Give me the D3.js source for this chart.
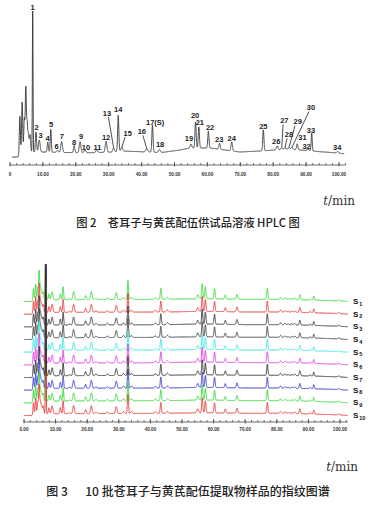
<!DOCTYPE html>
<html><head><meta charset="utf-8">
<script src="https://cdn.jsdelivr.net/npm/d3@7"></script>
<style>
html,body{margin:0;padding:0;background:#fff;}
svg{display:block;}
</style></head>
<body>
<svg id="c" width="376" height="505"></svg>
<script>
// ---------------- DATA ----------------
// unlabeled early cluster (min) and heights
const clusterTimes   = [3.0, 3.7, 4.35, 4.8, 5.2, 5.6, 6.1];
const clusterTop     = [38, 50, 33, 64, 28, 18, 17];
const clusterFp      = [12, 16, 12, 29, 12, 8, 8];
const clusterWidth   = [0.16, 0.16, 0.16, 0.16, 0.16, 0.18, 0.18];

// labeled peaks
const peakLabels = ["1","2","3","4","5","6","7","8","9","10","11","12","13","14","15","16","17(S)","18",
  "19","20","21","22","23","24","25","26","27","28","29","30","31","32","33","34"];
const peakTimes  = [6.9, 7.9, 8.9, 11.5, 12.4, 14.4, 15.7, 19.5, 21.3, 22.8, 26.4, 29.2, 31.5, 32.9, 34.0, 41.6, 43.3, 45.4,
  55.0, 56.4, 57.4, 60.3, 63.7, 67.4, 77.0, 81.2, 82.6, 83.6, 84.8, 85.7, 87.3, 90.6, 91.7, 99.6];
const peakTop    = [141, 20, 12, 10, 23, 2, 11, 7, 11, 3, 3, 11, 4, 36, 4, 3, 27, 3,
  4, 26, 21, 17, 6, 9, 21, 4, 2, 2, 2, 2, 6, 2, 18, 1.5];
const peakFp     = [120, 6, 8, 6, 13, 1, 8, 4, 8, 1.5, 1.5, 7, 2, 19, 2, 1.5, 11, 2,
  4, 15, 12, 10, 4, 5, 11, 2, 1.5, 1, 1, 1.5, 5, 1, 4, 1];
const peakWidth  = [0.1, 0.18, 0.25, 0.18, 0.16, 0.25, 0.25, 0.2, 0.25, 0.25, 0.25, 0.25, 0.25, 0.18, 0.25, 0.3, 0.18, 0.3,
  0.25, 0.18, 0.18, 0.18, 0.2, 0.22, 0.18, 0.25, 0.25, 0.25, 0.25, 0.25, 0.2, 0.25, 0.16, 0.25];

// baselines
const baseTimes = [0, 2.4, 3.5, 10.6, 15.2, 24.3, 31.9, 33.4, 42.6, 45.6, 51.7, 54.7, 60.8, 69.9, 76.0, 80.5, 85.1, 88.1, 94.2, 99.7, 102];
const baseTop   = [1, 1, 6, 6, 5.5, 5.3, 6, 7, 6, 5.3, 8, 10, 10, 6, 7, 8, 8.7, 8, 6.3, 5, 4];
const fpBaseTimes = [0, 2.5, 3.5, 10, 30, 45, 52, 58, 70, 80, 90, 100, 102.5];
const fpBase      = [0, 0, 1.5, 1.8, 2, 2.2, 2.6, 2.8, 2.2, 2.2, 1.6, 0.6, 0];

// samples
const samples = ["1","2","3","4","5","6","7","8","9","10"];
const sampleColors = ["#2fd82f","#e8312f","#333333","#3a3a3a","#2ee6e6","#e236e2","#2a2a2a","#2f2fd0","#2fd82f","#e8312f"];
const drawOrder = ["1","2","3","4","5","6","8","9","10","7"];

// axis ticks
const majorTicks = [0,10,20,30,40,50,60,70,80,90,100];

// captions
const caption1 = "图 2\u3000苍耳子与黄芪配伍供试品溶液 HPLC 图";
const caption2 = "图 3\u3000\u00a0\u00a010 批苍耳子与黄芪配伍提取物样品的指纹图谱";

// ---------------- LAYOUT ----------------
const labelOffsets = [[0,-1],[0.7,-1.7],[1.4,-2.3],[-0.3,-1.5],[0.3,-1.7],[-0.8,-1],[0.3,-2.4],[0,-1],[1,-2.4],[1,0],[0.6,0],[0,-1],
  [-6.7,-32.5],[0,-3],[5.8,-11.5],[-5,-15],[2.7,0],[0.7,-2.7],
  [-2,-2.6],[-0.5,-3.7],[1,-1.5],[1.7,-1],[-0.4,-1.7],[0,-1],[0,-0.7],[-1,-1.7],
  [2.6,-24.7],[4,-10.7],[8.7,-23],[19,-37.3],[5.2,-3.4],[-1.5,0.6],[-0.7,-0.3],[-0.4,-1]];
const leaders = {"13":1.5,"15":-2.5,"16":1,"27":-1.3,"28":-2,"29":-2.7,"30":-2};

const svg = d3.select("#c");
const W = 376;

// ---------------- TOP CHART ----------------
const xT = d3.scaleLinear().domain([0,100]).range([10,339]);
const yT = d3.scaleLinear().domain([0,150]).range([158,8]);
const baseFnT = d3.scaleLinear().domain(baseTimes).range(baseTop).clamp(true);
const baseFnF = d3.scaleLinear().domain(fpBaseTimes).range(fpBase).clamp(true);

function gauss(t, c, s){ return Math.exp(-((t-c)*(t-c))/(2*s*s)); }
function signal(t, baseFn, cH, pH){
  let v = baseFn(t);
  for(let i=0;i<clusterTimes.length;i++) v += cH[i]*gauss(t, clusterTimes[i], clusterWidth[i]);
  for(let i=0;i<peakTimes.length;i++) v += pH[i]*gauss(t, peakTimes[i], peakWidth[i]);
  return v;
}
const grid = d3.range(0.6, 101.6, 0.02);
const topData = grid.map(t => [t, signal(t, baseFnT, clusterTop, peakTop)]);

svg.append("path").datum(topData)
  .attr("fill","none").attr("stroke","#333").attr("stroke-width",0.9)
  .attr("d", d3.line().x(d=>xT(d[0])).y(d=>yT(d[1])));

// peak labels
const gl = svg.append("g").attr("font-family","Liberation Sans, Arial, sans-serif")
  .attr("font-weight","bold").attr("font-size","7.5px").attr("fill","#222");
peakLabels.forEach((lab,i)=>{
  const t = peakTimes[i];
  const ax = xT(t), ay = yT(signal(t, baseFnT, clusterTop, peakTop));
  const lx = ax + labelOffsets[i][0], ly = ay + labelOffsets[i][1];
  gl.append("text").attr("x",lx).attr("y",ly).attr("text-anchor","middle").text(lab);
  if(leaders[lab]!==undefined){
    svg.append("line").attr("x1",lx+leaders[lab]).attr("y1",ly+1.5).attr("x2",ax).attr("y2",ay)
      .attr("stroke","#222").attr("stroke-width",0.8);
  }
});

function drawAxis(x, y0, fmt, tEnd, labelY){
  const g = svg.append("g").attr("transform",`translate(0,${y0})`);
  g.append("line").attr("x1",x(0)).attr("x2",x(tEnd)).attr("stroke","#444").attr("stroke-width",0.8);
  g.selectAll("line.minor").data(d3.range(0, tEnd+0.01, 2)).join("line").attr("class","minor")
    .attr("x1",d=>x(d)).attr("x2",d=>x(d)).attr("y1",-2).attr("y2",0).attr("stroke","#444").attr("stroke-width",0.7);
  g.selectAll("line.major").data(majorTicks).join("line").attr("class","major")
    .attr("x1",d=>x(d)).attr("x2",d=>x(d)).attr("y1",-3).attr("y2",1.5).attr("stroke","#444").attr("stroke-width",0.8);
  const tx = g.selectAll("text").data(majorTicks).join("text")
    .attr("x",d=>x(d)).attr("y",labelY).attr("text-anchor","middle")
    .attr("font-family","Liberation Sans, Arial, sans-serif").attr("font-size","6px").attr("font-weight","bold")
    .attr("fill","#333").text(fmt);
  tx.each(function(){ const L=this.getComputedTextLength(); d3.select(this).attr("textLength",L*0.78).attr("lengthAdjust","spacingAndGlyphs"); });
}
drawAxis(xT, 165, d=> d===0 ? "0" : d.toFixed(2), 102, 11);

svg.append("text").attr("x",355).attr("y",205).attr("text-anchor","end")
  .attr("font-family","DejaVu Serif, Liberation Serif, serif").attr("font-size","12px").attr("fill","#333")
  .call(s=>{ s.append("tspan").attr("font-style","italic").text("t"); s.append("tspan").text("/min"); });

svg.append("text").attr("x",W/2).attr("y",227).attr("text-anchor","middle")
  .attr("font-family","Noto Sans CJK SC, sans-serif").attr("font-size","11.3px").attr("font-weight","500").attr("fill","#222")
  .text(caption1);

// ---------------- BOTTOM CHART ----------------
const xB = d3.scaleLinear().domain([0,100]).range([24,340]);
const off = d3.scalePoint().domain(samples).range([301.5,415.5]);
const yB = d3.scaleLinear().domain([0,100]).range([0,-100]);
svg.append("clipPath").attr("id","cp").append("rect")
  .attr("x",0).attr("y",264).attr("width",W).attr("height",160);
const gB = svg.append("g").attr("clip-path","url(#cp)");
const gridB = d3.range(0, 102.5, 0.02);
const fpData = gridB.map(t => [t, signal(t, baseFnF, clusterFp, peakFp)]);
drawOrder.forEach(s=>{
  const i = samples.indexOf(s);
  gB.append("path").datum(fpData)
    .attr("fill","none").attr("stroke",sampleColors[i]).attr("stroke-width",0.9)
    .attr("d", d3.line().x(d=>xB(d[0])).y(d=>off(s)+yB(d[1])));
});
samples.forEach((s,i)=>{
  const t = svg.append("text").attr("x",353).attr("y",off(s)+2.5)
    .attr("font-family","Liberation Sans, Arial, sans-serif").attr("font-weight","bold").attr("font-size","8px").attr("fill","#111");
  t.append("tspan").text("S");
  t.append("tspan").attr("font-size","5.5px").attr("dy",1.8).attr("dx",0.8).text(s);
});

drawAxis(xB, 422, d=> d.toFixed(2), 102.5, 8.5);

svg.append("text").attr("x",358).attr("y",471).attr("text-anchor","end")
  .attr("font-family","DejaVu Serif, Liberation Serif, serif").attr("font-size","12px").attr("fill","#333")
  .call(s=>{ s.append("tspan").attr("font-style","italic").text("t"); s.append("tspan").text("/min"); });

svg.append("text").attr("x",W/2).attr("y",496).attr("text-anchor","middle")
  .attr("font-family","Noto Sans CJK SC, sans-serif").attr("font-size","12px").attr("font-weight","500").attr("fill","#222")
  .text(caption2);
</script>
</body></html>
